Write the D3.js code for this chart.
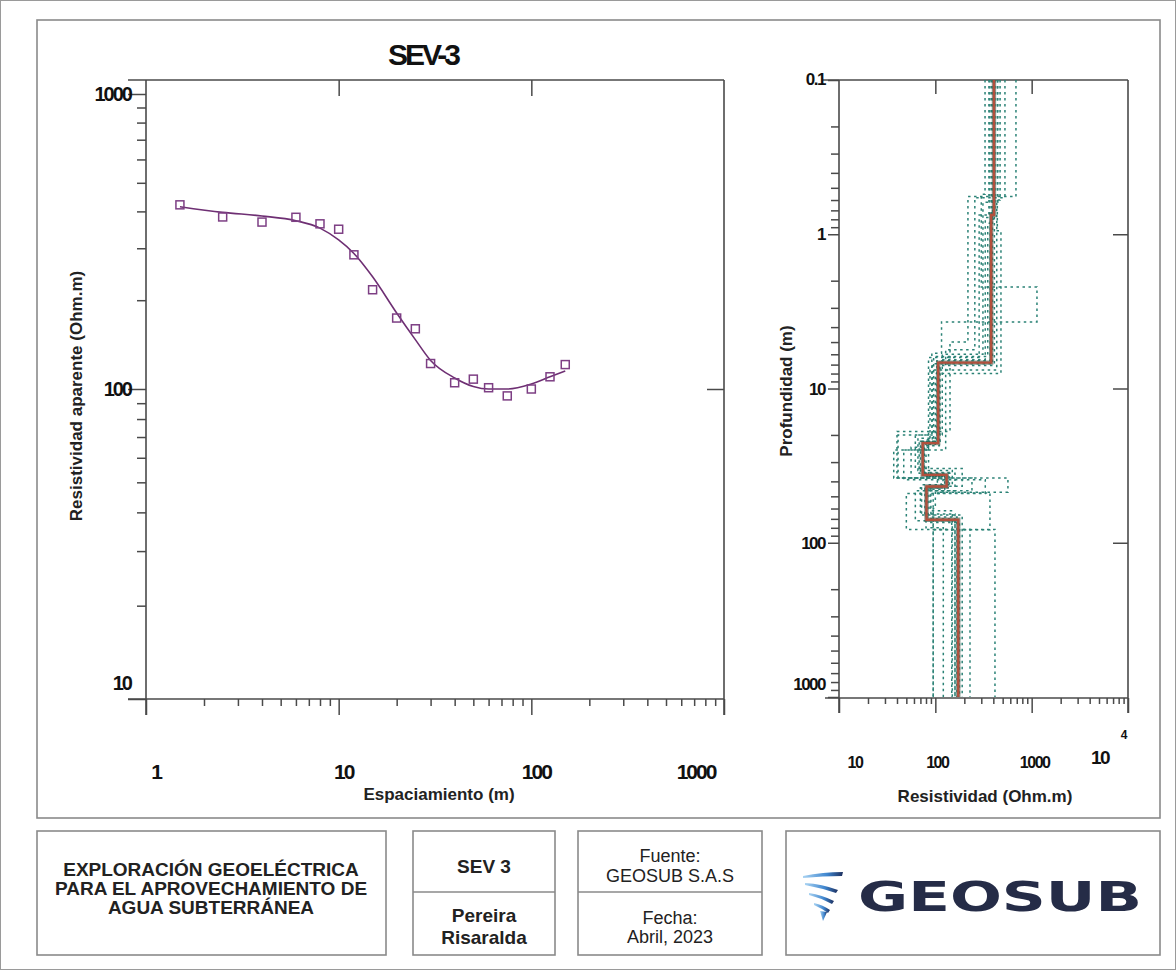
<!DOCTYPE html>
<html><head><meta charset="utf-8">
<script src="https://cdn.jsdelivr.net/npm/d3@7"></script>
<style>
body{margin:0;background:#fff;}
svg{display:block;}
text{font-family:"Liberation Sans",Arial,sans-serif;}
</style></head><body>
<svg id="c" width="1176" height="970"></svg>
<script>
// ---------- DATA ----------
// Apparent resistivity curve (left panel)
const spacing      = [1.5,2.5,4,6,8,10,12,15,20,25,30,40,50,60,75,100,125,150];
const rhoApparent  = [421,383,368,382,363,348,285,217,174,160,122,105,108,101,95,100,110,121];
const fitSpacing   = [1.5,2.5,4,6,8,10,12,15,20,25,30,40,50,60,75,100,125,150];
const fitRho       = [415,397,386,372,351,320,288,240,181,147,125,109,102,100,100,104,110,115];
const leftXLabels  = ["1","10","100","1000"];
const leftYLabels  = ["10","100","1000"];

// Layered model (right panel) - best model
const layerRho    = [406,380,107,74,131,81,173];
const layerBottom = [0.75,6.8,22.6,36.3,43.2,71];
// Equivalent models
const eqRho = [
  [398,372,104,70,140,78,168],
  [415,392,110,77,125,84,178],
  [385,350,96,66,150,72,160],
  [445,312,118,62,190,88,150],
  [470,434,88,56,240,80,121],
  [528,257,128,47,330,95,229],
  [687,218,142,40,567,100,95],
  [328,300,1135,116,92,41,120,50,416],
  [369,285,85,37,105,369,95],
  [440,480,100,85,115,70,190],
  [360,330,112,68,160,62,148],
  [400,410,93,80,135,90,160]
];
const eqBottom = [
  [0.8,6.6,22,35,44,68],
  [0.7,7.1,23.5,37,45,74],
  [0.85,6.2,21,34,42,65],
  [0.62,6.0,20,33,43,62],
  [0.6,7.6,24,38,46,80],
  [0.58,5.6,25,39,48,82],
  [0.57,5.0,19,38,47,60],
  [0.55,2.2,3.7,5.9,20,38,48,82],
  [0.75,6.3,25,38,47.5,82.5],
  [0.95,8.0,23,36,44,66],
  [0.78,6.5,22,35.5,46,72],
  [0.73,6.9,21.5,37,43,70]
];
const rightXLabels = ["10","100","1000","10"];
const rightYLabels = ["0.1","1","10","100","1000"];

// ---------- DRAW ----------
const svg = d3.select("#c");
const AX = "#4a4a4a";
const isMajor = v => Math.abs(Math.log10(v) - Math.round(Math.log10(v))) < 1e-9;

// page frame
svg.append("rect").attr("x",0.5).attr("y",0.5).attr("width",1175).attr("height",969)
  .attr("fill","none").attr("stroke","#9a9a9a").attr("stroke-width",1);
svg.append("rect").attr("x",37).attr("y",20).attr("width",1123).attr("height",798)
  .attr("fill","none").attr("stroke","#8a8a8a").attr("stroke-width",1.6);

// ===== LEFT PANEL =====
const x1 = d3.scaleLog().domain([1,1000]).range([146,724]);
const y1 = d3.scaleLog().domain([10,100,1000]).range([699,389,94]);
const gL = svg.append("g");

function styleAxis(g){
  g.select(".domain").remove();
  g.selectAll(".tick line").attr("stroke",AX).attr("stroke-width",1.5);
}
gL.append("g").attr("transform","translate(0,699)")
  .call(d3.axisBottom(x1).tickValues(x1.ticks()).tickFormat("").tickSize(7))
  .call(styleAxis)
  .call(g=>g.selectAll(".tick line").attr("y2",d=>isMajor(d)?16:7));
gL.append("g").attr("transform","translate(146,0)")
  .call(d3.axisLeft(y1).tickValues(y1.ticks()).tickFormat("").tickSize(9))
  .call(styleAxis)
  .call(g=>g.selectAll(".tick line").attr("x2",d=>isMajor(d)?-18:-9));
gL.append("g").attr("transform","translate(0,80)")
  .call(d3.axisBottom(x1).tickValues([10,100]).tickFormat("").tickSize(16))
  .call(styleAxis);
gL.append("g").attr("transform","translate(724,0)")
  .call(d3.axisLeft(y1).tickValues([100]).tickFormat("").tickSize(17))
  .call(styleAxis);
const frameL = [[128,80,724,80],[146,80,146,715],[128,699,724,699],[724,80,724,715]];
gL.selectAll("line.fr").data(frameL).join("line").attr("class","fr")
  .attr("x1",d=>d[0]).attr("y1",d=>d[1]).attr("x2",d=>d[2]).attr("y2",d=>d[3])
  .attr("stroke",AX).attr("stroke-width",1.6);

const line1 = d3.line().x(d=>x1(d[0])).y(d=>y1(d[1])).curve(d3.curveMonotoneX);
gL.append("path").datum(fitSpacing.map((s,i)=>[s,fitRho[i]]))
  .attr("d",line1).attr("fill","none").attr("stroke","#6e2f73").attr("stroke-width",1.6);
gL.selectAll("rect.pt").data(spacing.map((s,i)=>[s,rhoApparent[i]])).join("rect").attr("class","pt")
  .attr("x",d=>x1(d[0])-4).attr("y",d=>y1(d[1])-4).attr("width",8).attr("height",8)
  .attr("fill","none").attr("stroke","#7d3f84").attr("stroke-width",1.5);

const numStyle = s => s.attr("font-weight","bold").attr("fill","#111").attr("letter-spacing","-2px");
const xOff = {"1":10,"10":5,"100":5,"1000":-28};
gL.selectAll("text.xl").data(leftXLabels).join("text").attr("class","xl")
  .attr("x",d=>x1(+d)+xOff[d]).attr("y",779).attr("text-anchor","middle")
  .attr("font-size",21).call(numStyle).text(d=>d);
const yOff = {"10":-9,"100":7,"1000":7};
gL.selectAll("text.yl").data(leftYLabels).join("text").attr("class","yl")
  .attr("x",131).attr("y",d=>y1(+d)+yOff[d]).attr("text-anchor","end")
  .attr("font-size",20).call(numStyle).text(d=>d);
gL.append("text").attr("x",423).attr("y",65).attr("text-anchor","middle")
  .attr("font-size",30).attr("font-weight","bold").attr("letter-spacing","-3px").attr("fill","#111").text("SEV-3");
gL.append("text").attr("x",439).attr("y",800).attr("text-anchor","middle")
  .attr("font-size",17).attr("font-weight","bold").attr("fill","#222").text("Espaciamiento (m)");
gL.append("text").attr("transform","translate(82,396) rotate(-90)").attr("text-anchor","middle")
  .attr("font-size",17).attr("font-weight","bold").attr("fill","#222").text("Resistividad aparente (Ohm.m)");

// ===== RIGHT PANEL =====
const x2 = d3.scaleLog().domain([10,10000]).range([839,1128]);
const y2 = d3.scaleLog().domain([0.1,1000]).range([80,697]);
const gR = svg.append("g");

gR.append("g").attr("transform","translate(0,698)")
  .call(d3.axisBottom(x2).tickValues(x2.ticks()).tickFormat("").tickSize(6))
  .call(styleAxis)
  .call(g=>g.selectAll(".tick line").attr("y2",d=>isMajor(d)?15:6));
gR.append("g").attr("transform","translate(839,0)")
  .call(d3.axisLeft(y2).tickValues(y2.ticks()).tickFormat("").tickSize(8))
  .call(styleAxis)
  .call(g=>g.selectAll(".tick line").attr("x2",d=>isMajor(d)?-11:-8));
gR.append("g").attr("transform","translate(0,80)")
  .call(d3.axisBottom(x2).tickValues([100,1000]).tickFormat("").tickSize(14))
  .call(styleAxis);
gR.append("g").attr("transform","translate(1128,0)")
  .call(d3.axisLeft(y2).tickValues([1,10,100]).tickFormat("").tickSize(15))
  .call(styleAxis);
const frameR = [[823,80,1128,80],[839,80,839,713],[825,698,1128,698],[1128,80,1128,713]];
gR.selectAll("line.fr").data(frameR).join("line").attr("class","fr")
  .attr("x1",d=>d[0]).attr("y1",d=>d[1]).attr("x2",d=>d[2]).attr("y2",d=>d[3])
  .attr("stroke",AX).attr("stroke-width",1.6);

function steps(rho, bottoms){
  const pts = [[rho[0],0.1]];
  bottoms.forEach((d,i)=>{ pts.push([rho[i],d]); pts.push([rho[i+1],d]); });
  pts.push([rho[rho.length-1],1000]);
  return pts;
}
const line2 = d3.line().x(d=>x2(d[0])).y(d=>y2(d[1]));
gR.selectAll("path.eq").data(eqRho.map((r,i)=>steps(r,eqBottom[i]))).join("path").attr("class","eq")
  .attr("d",line2).attr("fill","none").attr("stroke","#2b8276").attr("stroke-width",1.5)
  .attr("stroke-dasharray","2.5,3.5");
gR.append("path").datum(steps(layerRho,layerBottom))
  .attr("d",line2).attr("fill","none").attr("stroke","#3d5a4c").attr("stroke-width",4.4).attr("opacity",0.6);
gR.append("path").datum(steps(layerRho,layerBottom))
  .attr("d",line2).attr("fill","none").attr("stroke","#b2503d").attr("stroke-width",2.4);

const ryOff = {"0.1":5,"1":6,"10":6,"100":6,"1000":-7};
gR.selectAll("text.yl").data(rightYLabels).join("text").attr("class","yl")
  .attr("x",825).attr("y",d=>y2(+d)+ryOff[d]).attr("text-anchor","end")
  .attr("font-size",17).call(numStyle).attr("letter-spacing","-1.5px").text(d=>d);
const rxPos = [16,2,3,-28];
gR.selectAll("text.xl").data(rightXLabels).join("text").attr("class","xl")
  .attr("x",(d,i)=>x2([10,100,1000,10000][i])+rxPos[i]).attr("y",(d,i)=>i===3?764:768)
  .attr("text-anchor","middle").attr("font-size",(d,i)=>i===3?19:16)
  .call(numStyle).attr("letter-spacing","-1.5px").text(d=>d);
gR.append("text").attr("x",1124).attr("y",739).attr("text-anchor","middle")
  .attr("font-size",12).attr("font-weight","bold").attr("fill","#111").text("4");
gR.append("text").attr("x",985).attr("y",802).attr("text-anchor","middle")
  .attr("font-size",17).attr("font-weight","bold").attr("fill","#222").text("Resistividad (Ohm.m)");
gR.append("text").attr("transform","translate(792,391) rotate(-90)").attr("text-anchor","middle")
  .attr("font-size",17).attr("font-weight","bold").attr("fill","#222").text("Profundidad (m)");

// ===== BOTTOM BOXES =====
const gB = svg.append("g");
const boxes = [[37,831,349,124],[413,831,142,124],[578,831,184,124],[786,831,374,124]];
gB.selectAll("rect.bx").data(boxes).join("rect").attr("class","bx")
  .attr("x",d=>d[0]).attr("y",d=>d[1]).attr("width",d=>d[2]).attr("height",d=>d[3])
  .attr("fill","none").attr("stroke","#8a8a8a").attr("stroke-width",1.6);
gB.append("line").attr("x1",413).attr("x2",555).attr("y1",892).attr("y2",892).attr("stroke","#8a8a8a").attr("stroke-width",1.4);
gB.append("line").attr("x1",578).attr("x2",762).attr("y1",892).attr("y2",892).attr("stroke","#8a8a8a").attr("stroke-width",1.4);

const narrow = '"Liberation Sans Narrow","Arial Narrow","Liberation Sans",sans-serif';
const boxTexts = [
  {t:"EXPLORACIÓN GEOELÉCTRICA", x:211, y:876, b:true, s:19},
  {t:"PARA EL APROVECHAMIENTO DE", x:211, y:895, b:true, s:19},
  {t:"AGUA SUBTERRÁNEA", x:211, y:914, b:true, s:19},
  {t:"SEV 3", x:484, y:873, b:true, s:19},
  {t:"Pereira", x:484, y:922, b:true, s:19},
  {t:"Risaralda", x:484, y:944, b:true, s:19},
  {t:"Fuente:", x:670, y:862, b:false, s:18},
  {t:"GEOSUB S.A.S", x:670, y:882, b:false, s:18},
  {t:"Fecha:", x:670, y:924, b:false, s:18},
  {t:"Abril, 2023", x:670, y:943, b:false, s:18}
];
gB.selectAll("text.bt").data(boxTexts).join("text").attr("class","bt")
  .attr("x",d=>d.x).attr("y",d=>d.y).attr("text-anchor","middle")
  .style("font-family",narrow).attr("font-size",d=>d.s)
  .attr("font-weight",d=>d.b?"bold":"normal").attr("fill","#222").text(d=>d.t);

// logo
const defs = svg.append("defs");
const grad = defs.append("linearGradient").attr("id","lg").attr("x1","0").attr("x2","1").attr("y1","0").attr("y2","0");
grad.append("stop").attr("offset","0").attr("stop-color","#a9d3f2");
grad.append("stop").attr("offset","0.6").attr("stop-color","#3f86cf");
grad.append("stop").attr("offset","1").attr("stop-color","#1d2f5e");
const swoosh = [
  "M803,876 Q823,872 843,872 L842,876 Q823,876 803,878 Z",
  "M805,883 Q822,884 838,890 L836,893 Q821,888 805,885 Z",
  "M809,893 Q822,895 834,901 L832,904 Q821,898 809,895 Z",
  "M814,903 Q823,905 830,910 L828,913 Q821,908 814,905 Z",
  "M820,911 L827,912 L823,921 Z"
];
gB.selectAll("path.sw").data(swoosh).join("path").attr("class","sw").attr("d",d=>d).attr("fill","url(#lg)");
gB.append("text").attr("x",858).attr("y",911).attr("font-size",41)
  .style("font-family",'"DejaVu Sans",sans-serif').attr("font-weight","bold")
  .attr("textLength",284).attr("lengthAdjust","spacingAndGlyphs")
  .attr("fill","#252c47").text("GEOSUB");
</script>
</body></html>
